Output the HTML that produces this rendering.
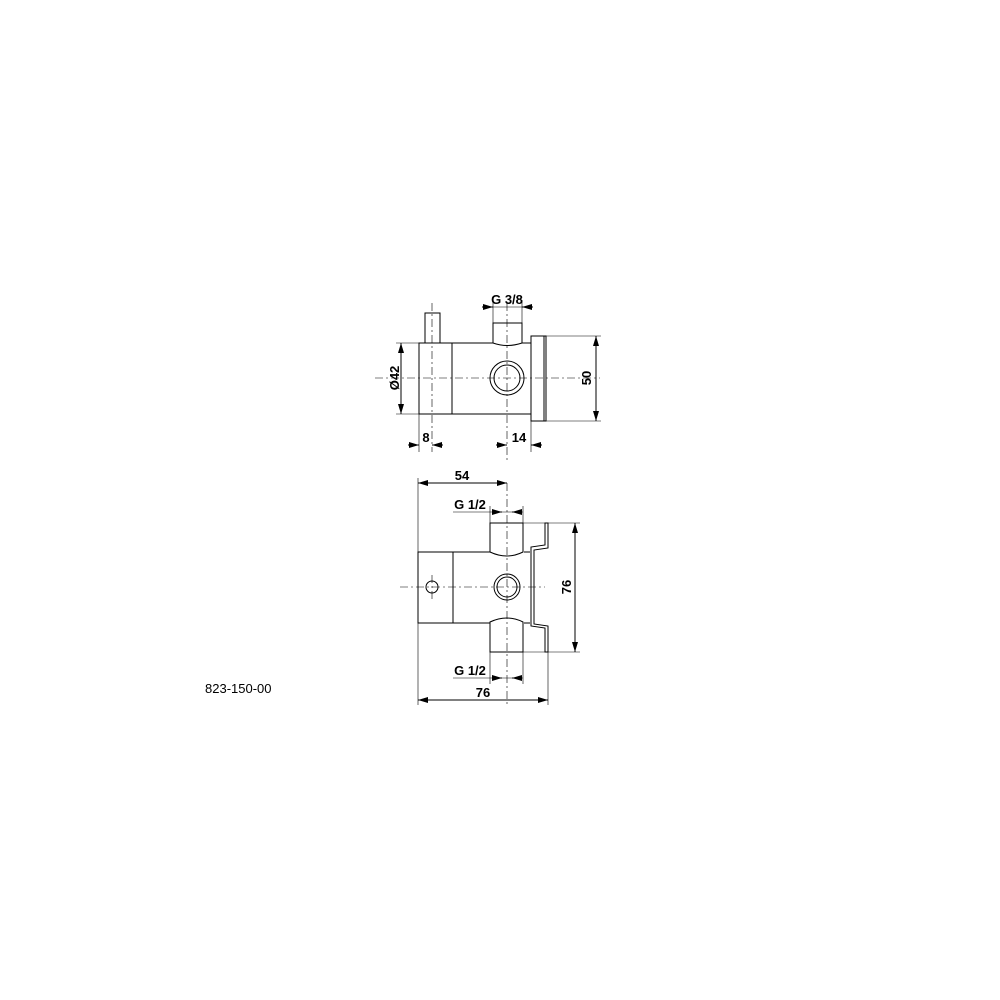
<!DOCTYPE html>
<html><head><style>
html,body{margin:0;padding:0;background:#fff;}
svg{display:block}
text{font-family:"Liberation Sans",sans-serif;font-weight:bold;font-size:13px;fill:#000}
</style></head><body>
<svg width="1000" height="1000" viewBox="0 0 1000 1000" xmlns="http://www.w3.org/2000/svg">
<defs>
<marker id="a" viewBox="0 0 10 6" refX="10" refY="3" markerWidth="10" markerHeight="6" markerUnits="userSpaceOnUse" orient="auto-start-reverse"><path d="M0,0 L10,3 L0,6 z" fill="#000"/></marker>
</defs>
<g fill="none" stroke="#000" stroke-width="1">
<rect x="419" y="343" width="33" height="71"/>
<rect x="425" y="313" width="15" height="30"/>
<path d="M452,343 H493 M522,343 H531 M452,414 H531"/>
<path d="M493,323 H522 V343 Q507,348 493,343 Z"/>
<rect x="531" y="336" width="15" height="85"/>
<line x1="544" y1="336" x2="544" y2="421"/>
<circle cx="507" cy="378" r="17"/>
<circle cx="507" cy="378" r="13"/>
<g stroke-width="0.6" stroke-dasharray="8,3,2,3">
<line x1="507" y1="303" x2="507" y2="462"/>
<line x1="432" y1="303" x2="432" y2="452"/>
<line x1="375" y1="378" x2="600" y2="378"/>
</g>
<g stroke-width="0.6">
<line x1="396" y1="343" x2="419" y2="343"/>
<line x1="396" y1="414" x2="419" y2="414"/>
<line x1="546" y1="336" x2="601" y2="336"/>
<line x1="546" y1="421" x2="601" y2="421"/>
<line x1="419" y1="414" x2="419" y2="452"/>
<line x1="531" y1="421" x2="531" y2="452"/>
<line x1="493" y1="300" x2="493" y2="323"/>
<line x1="522" y1="300" x2="522" y2="323"/>
</g>
<line x1="401" y1="343" x2="401" y2="414" marker-start="url(#a)" marker-end="url(#a)"/>
<line x1="596" y1="336" x2="596" y2="421" marker-start="url(#a)" marker-end="url(#a)"/>
<line x1="408" y1="445" x2="419" y2="445" marker-end="url(#a)"/>
<line x1="443" y1="445" x2="432" y2="445" marker-end="url(#a)"/>
<line x1="496" y1="445" x2="507" y2="445" marker-end="url(#a)"/>
<line x1="542" y1="445" x2="531" y2="445" marker-end="url(#a)"/>
<line x1="482" y1="307" x2="493" y2="307" marker-end="url(#a)"/>
<line x1="533" y1="307" x2="522" y2="307" marker-end="url(#a)"/>
<line x1="493" y1="307" x2="522" y2="307" stroke-width="0.6"/>

<rect x="418" y="552" width="35" height="71"/>
<path d="M453,552 H490 M453,623 H490 M524,552 H530 M524,623 H530"/>
<path d="M490,523 H523 V552 Q507,560 490,552 Z"/>
<path d="M490,652 H523 V622 Q507,614 490,622 Z"/>
<path d="M545,523 V545 L531,547 V626 L545,628 V652 H548 V626 L534,624 V550 L548,548 V523 Z"/>
<circle cx="507" cy="587" r="13"/>
<circle cx="507" cy="587" r="10"/>
<circle cx="432" cy="587" r="6"/>
<g stroke-width="0.6" stroke-dasharray="8,3,2,3">
<line x1="507" y1="483" x2="507" y2="706"/>
<line x1="400" y1="587" x2="545" y2="587"/>
<line x1="432" y1="575" x2="432" y2="600"/>
</g>
<g stroke-width="0.6">
<line x1="418" y1="478" x2="418" y2="705"/>
<line x1="548" y1="652" x2="548" y2="705"/>
<line x1="523" y1="523" x2="580" y2="523"/>
<line x1="523" y1="652" x2="580" y2="652"/>
<line x1="490" y1="506" x2="490" y2="523"/>
<line x1="523" y1="506" x2="523" y2="523"/>
<line x1="490" y1="652" x2="490" y2="684"/>
<line x1="523" y1="652" x2="523" y2="684"/>
<line x1="453" y1="512" x2="523" y2="512"/>
<line x1="453" y1="678" x2="523" y2="678"/>
</g>
<line x1="418" y1="483" x2="507" y2="483" marker-start="url(#a)" marker-end="url(#a)"/>
<line x1="418" y1="700" x2="548" y2="700" marker-start="url(#a)" marker-end="url(#a)"/>
<line x1="575" y1="523" x2="575" y2="652" marker-start="url(#a)" marker-end="url(#a)"/>
<line x1="492" y1="512" x2="502" y2="512" marker-end="url(#a)"/>
<line x1="522" y1="512" x2="512" y2="512" marker-end="url(#a)"/>
<line x1="492" y1="678" x2="502" y2="678" marker-end="url(#a)"/>
<line x1="522" y1="678" x2="512" y2="678" marker-end="url(#a)"/>
</g>
<text x="507" y="304" text-anchor="middle">G 3/8</text>
<text x="400" y="378" text-anchor="middle" transform="rotate(-90 400 378)" dy="-1">Ø42</text>
<text x="591" y="378" text-anchor="middle" transform="rotate(-90 591 378)">50</text>
<text x="426" y="442" text-anchor="middle">8</text>
<text x="519" y="442" text-anchor="middle">14</text>
<text x="462" y="480" text-anchor="middle">54</text>
<text x="470" y="509" text-anchor="middle">G 1/2</text>
<text x="571" y="587" text-anchor="middle" transform="rotate(-90 571 587)">76</text>
<text x="470" y="675" text-anchor="middle">G 1/2</text>
<text x="483" y="697" text-anchor="middle">76</text>
<text x="205" y="693" style="font-weight:normal;font-size:13px">823-150-00</text>
</svg>
</body></html>
